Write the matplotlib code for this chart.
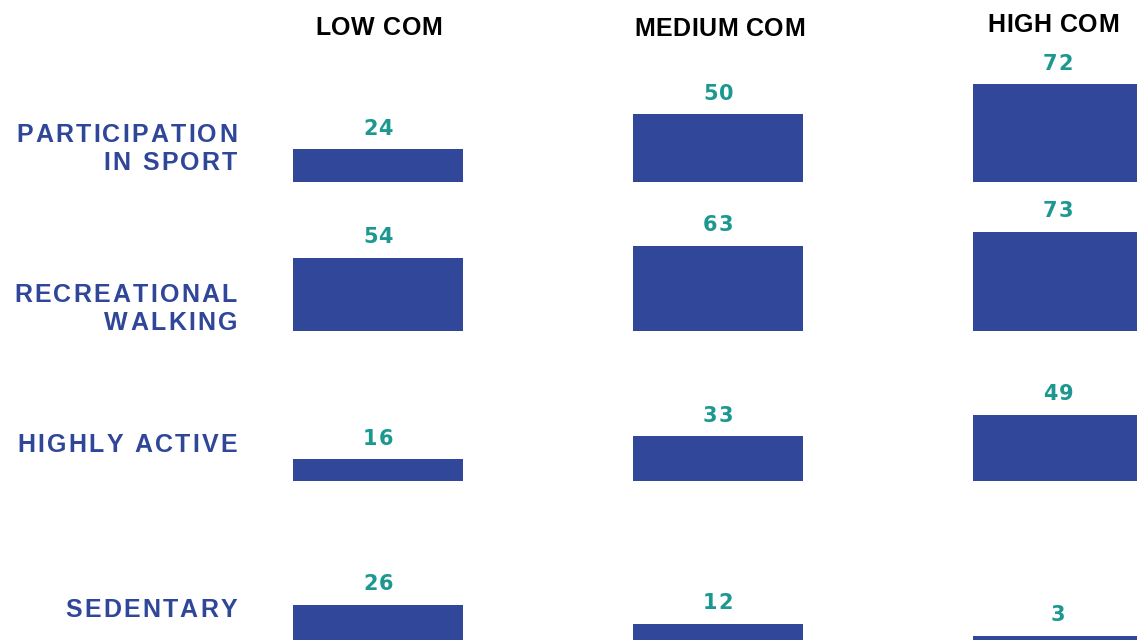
import matplotlib.pyplot as plt
from matplotlib.font_manager import FontProperties, findfont
from matplotlib.ft2font import FT2Font

# data
groups = ['LOW COM', 'MEDIUM COM', 'HIGH COM']
measures = [['PARTICIPATION', 'IN SPORT'], ['RECREATIONAL', 'WALKING'],
            ['HIGHLY ACTIVE'], ['SEDENTARY']]
participation = [24, 50, 72]
walking = [54, 63, 73]
highly_active = [16, 33, 49]
sedentary = [26, 12, 3]
rows = [participation, walking, highly_active, sedentary]

bar_col = '#30479a'
lab_col = '#2f4699'
val_col = '#1c9891'

W, H = 1137, 640
DPI = 100
fig = plt.figure(figsize=(W / DPI, H / DPI), dpi=DPI)


def tracked(x, y, s, size, family, color, track=0.0, ha='left'):
    """Draw s with extra letter spacing; x, y in display pixels, y = baseline."""
    font = FT2Font(findfont(FontProperties(family=family, weight='bold')))
    font.set_size(size, 72)
    adv = [font.load_char(ord(c)).linearHoriAdvance / 65536 * DPI / 72 for c in s]
    total = sum(adv) + track * (len(s) - 1)
    if ha == 'right':
        x -= total
    elif ha == 'center':
        x -= total / 2
    for c, a in zip(s, adv):
        fig.text(x / W, y / H, c, ha='left', va='baseline', fontsize=size,
                 fontweight='bold', family=family, color=color)
        x += a + track


baselines = [182, 331, 481, 640]   # pixel y (from top) of each row's baseline
col_x = [378, 718, 1058]
px_per_unit = 1.357
col_gap = 340

for vals, base in zip(rows, baselines):
    ax = fig.add_axes([0, (H - base) / H, 1, 110 * px_per_unit / H])
    ax.set_xlim(-col_x[0] / col_gap, (W - col_x[0]) / col_gap)
    ax.set_ylim(0, 110)
    ax.axis('off')
    ax.patch.set_alpha(0)
    bars = ax.bar(range(len(vals)), vals, width=0.5, color=bar_col)
    for b, v in zip(bars, vals):
        px, py = ax.transData.transform((b.get_x() + b.get_width() / 2, v))
        tracked(px, py + 14.5, str(v), 15, 'DejaVu Sans', val_col,
                track=1.0, ha='center')

# column headers (centre x, baseline y from top)
head_x = [379, 719.5, 1053.5]
head_y = [35, 36.5, 32]
for g, x, y in zip(groups, head_x, head_y):
    tracked(x, H - y, g, 18, 'Liberation Sans', 'black', track=0.5, ha='center')

# row labels (baseline y from top of first line)
label_base = [141.5, 301.5, 452.5, 617]
for lines, y in zip(measures, label_base):
    for i, ln in enumerate(lines):
        tracked(237, H - (y + 29 * i), ln, 18, 'Liberation Sans', lab_col,
                track=2.2, ha='right')

fig.savefig('out.png', dpi=DPI)
